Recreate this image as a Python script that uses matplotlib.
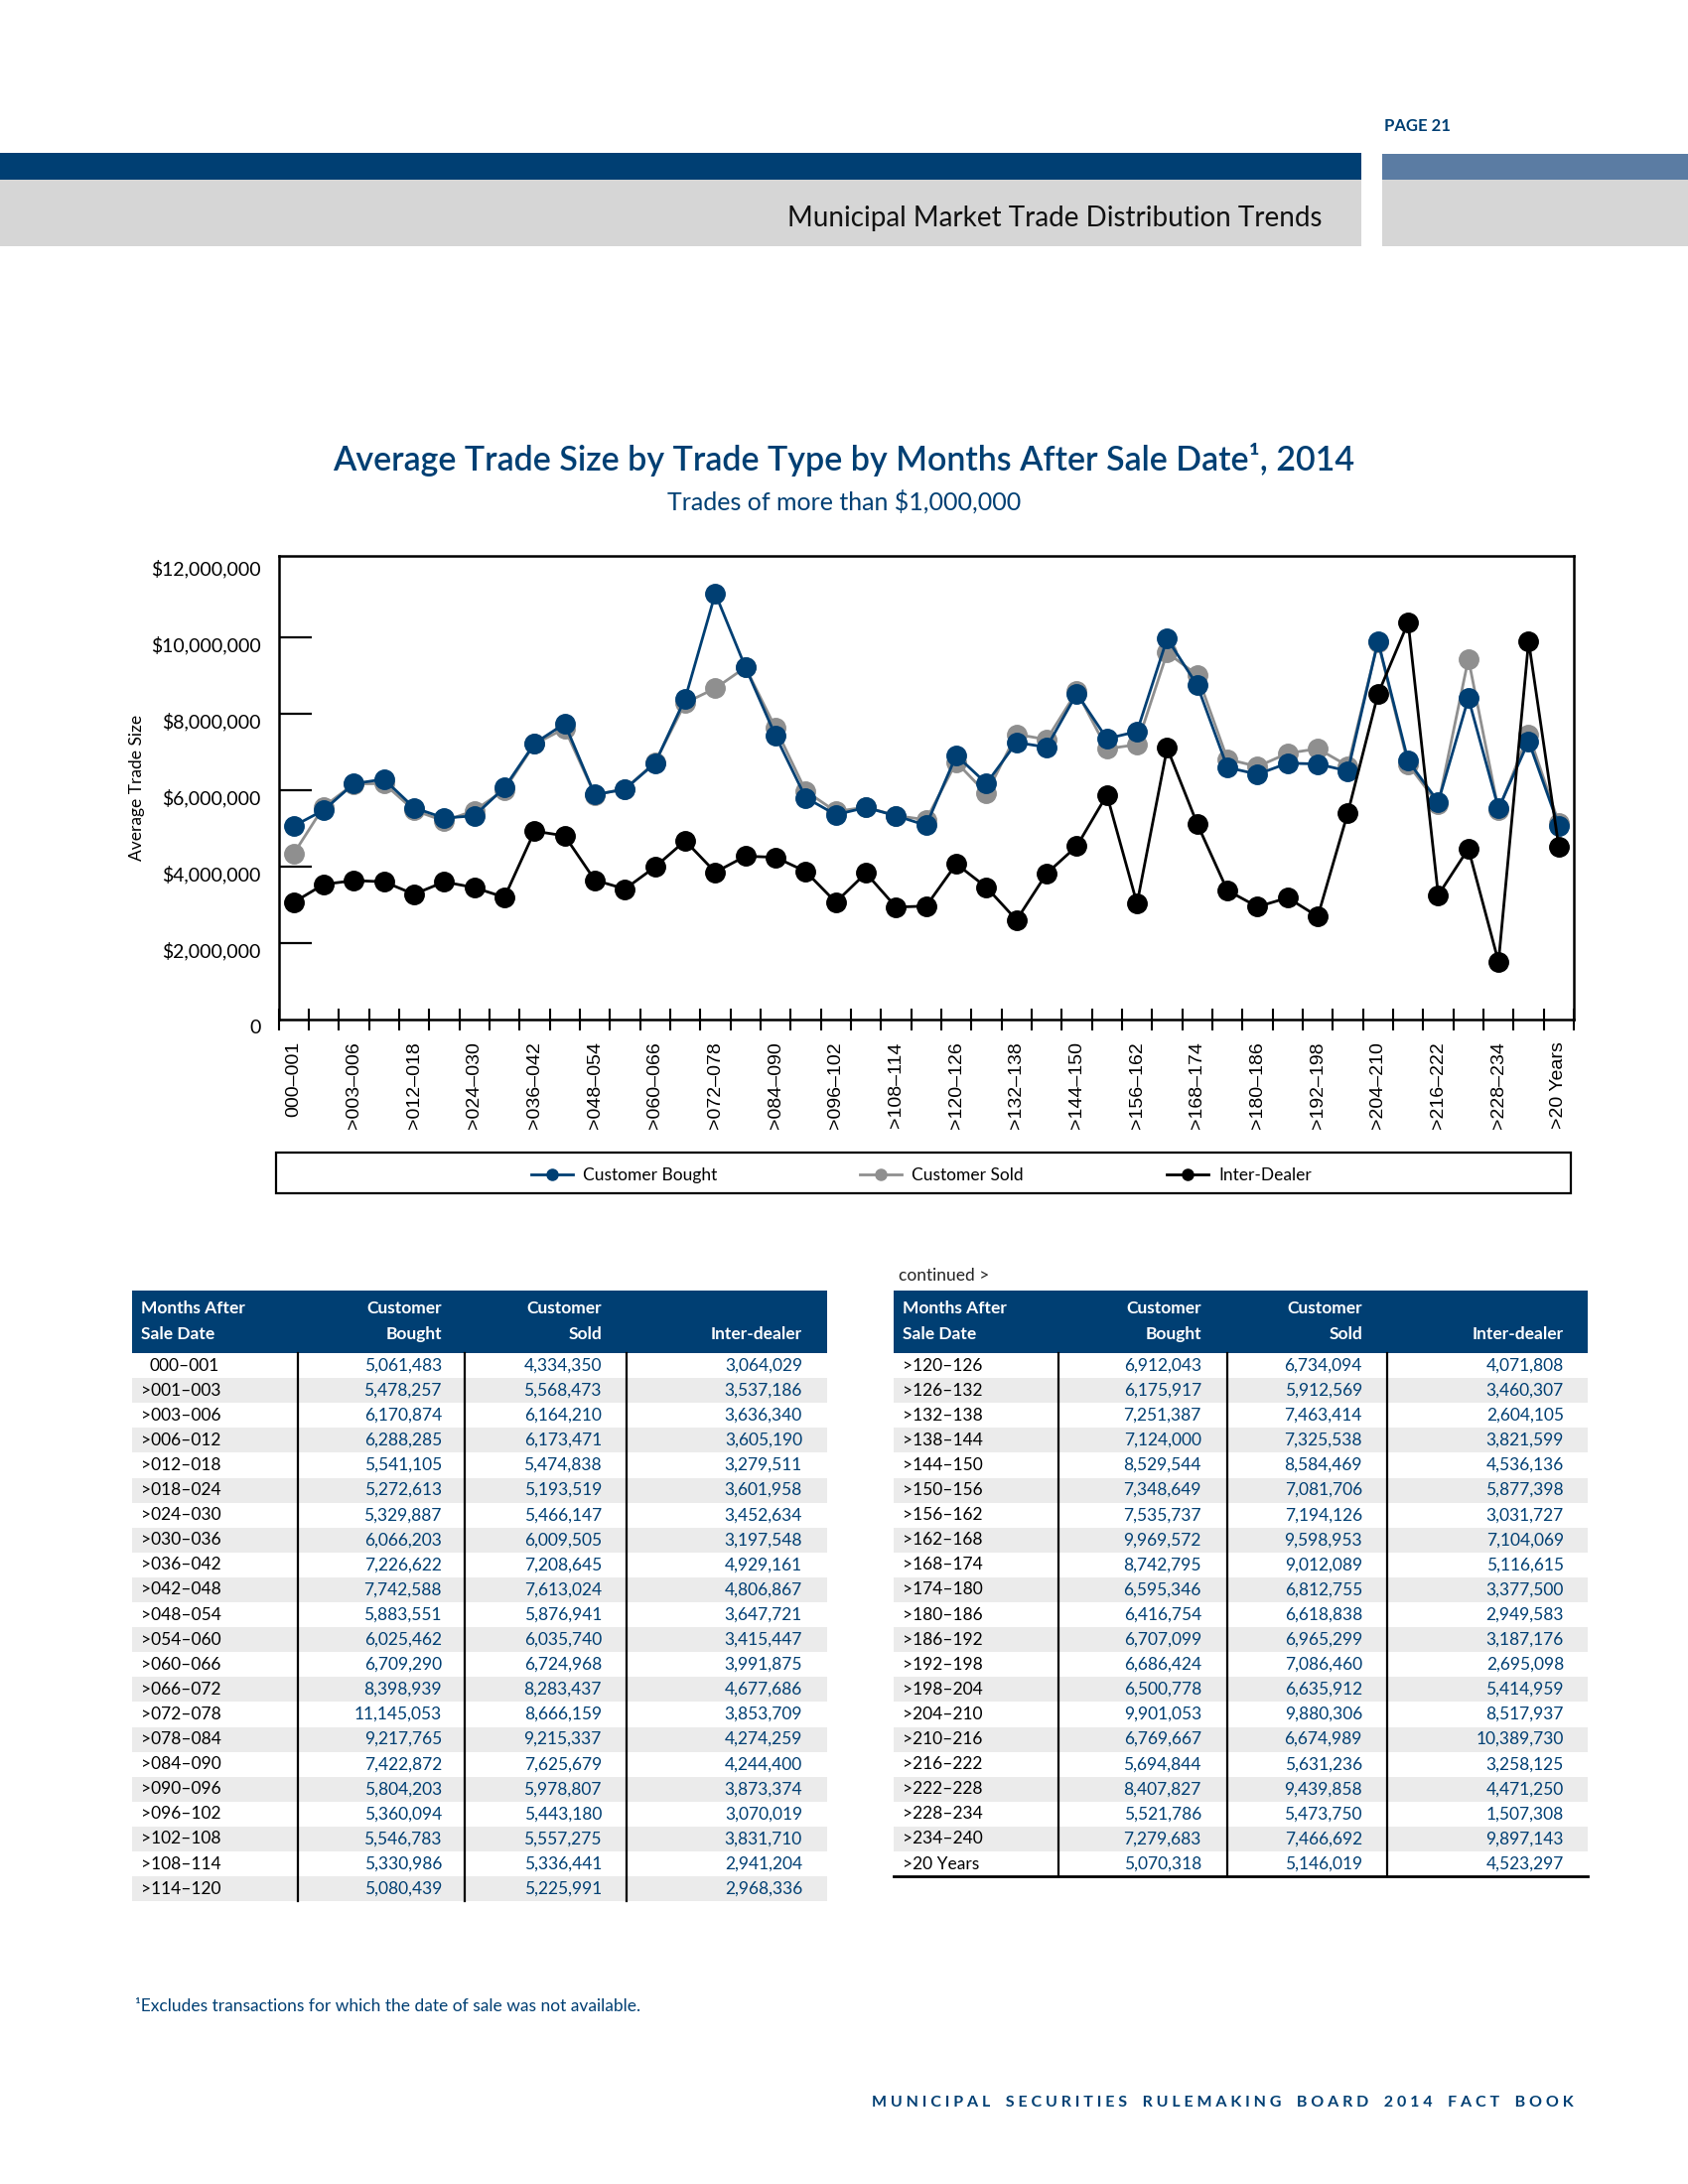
import matplotlib
matplotlib.use('Agg')
import matplotlib.pyplot as plt
import matplotlib.transforms as mtransforms
from matplotlib.patches import Rectangle
from matplotlib.lines import Line2D
import numpy as np

plt.rcParams['font.family'] = ['Lato', 'DejaVu Sans']

# ---------------- data ----------------
months = ['000–001', '>001–003', '>003–006', '>006–012', '>012–018', '>018–024',
          '>024–030', '>030–036', '>036–042', '>042–048', '>048–054', '>054–060',
          '>060–066', '>066–072', '>072–078', '>078–084', '>084–090', '>090–096',
          '>096–102', '>102–108', '>108–114', '>114–120',
          '>120–126', '>126–132', '>132–138', '>138–144', '>144–150', '>150–156',
          '>156–162', '>162–168', '>168–174', '>174–180', '>180–186', '>186–192',
          '>192–198', '>198–204', '>204–210', '>210–216', '>216–222', '>222–228',
          '>228–234', '>234–240', '>20 Years']

customer_bought = [5061483, 5478257, 6170874, 6288285, 5541105, 5272613, 5329887,
                   6066203, 7226622, 7742588, 5883551, 6025462, 6709290, 8398939,
                   11145053, 9217765, 7422872, 5804203, 5360094, 5546783, 5330986,
                   5080439,
                   6912043, 6175917, 7251387, 7124000, 8529544, 7348649, 7535737,
                   9969572, 8742795, 6595346, 6416754, 6707099, 6686424, 6500778,
                   9901053, 6769667, 5694844, 8407827, 5521786, 7279683, 5070318]

customer_sold = [4334350, 5568473, 6164210, 6173471, 5474838, 5193519, 5466147,
                 6009505, 7208645, 7613024, 5876941, 6035740, 6724968, 8283437,
                 8666159, 9215337, 7625679, 5978807, 5443180, 5557275, 5336441,
                 5225991,
                 6734094, 5912569, 7463414, 7325538, 8584469, 7081706, 7194126,
                 9598953, 9012089, 6812755, 6618838, 6965299, 7086460, 6635912,
                 9880306, 6674989, 5631236, 9439858, 5473750, 7466692, 5146019]

inter_dealer = [3064029, 3537186, 3636340, 3605190, 3279511, 3601958, 3452634,
                3197548, 4929161, 4806867, 3647721, 3415447, 3991875, 4677686,
                3853709, 4274259, 4244400, 3873374, 3070019, 3831710, 2941204,
                2968336,
                4071808, 3460307, 2604105, 3821599, 4536136, 5877398, 3031727,
                7104069, 5116615, 3377500, 2949583, 3187176, 2695098, 5414959,
                8517937, 10389730, 3258125, 4471250, 1507308, 9897143, 4523297]

series_names = ['Customer Bought', 'Customer Sold', 'Inter-Dealer']
y_ticks = [0, 2000000, 4000000, 6000000, 8000000, 10000000, 12000000]
table_headers = [('Months After', 'Sale Date'), ('Customer', 'Bought'),
                 ('Customer', 'Sold'), ('', 'Inter-dealer')]

# ---------------- style ----------------
BLUE = '#003f73'
LBLUE = '#5b7ca3'
GRAY = '#8f8f8f'
BAND = '#d6d6d6'
SHADE = '#ebebeb'

fig = plt.figure(figsize=(17, 22), dpi=100)
bg = fig.add_axes([0, 0, 1, 1], zorder=0)
bg.set_xlim(0, 1700)
bg.set_ylim(2200, 0)
bg.axis('off')

# page header
bg.add_patch(Rectangle((0, 154), 1371, 27, color=BLUE, lw=0))
bg.add_patch(Rectangle((0, 181), 1371, 67, color=BAND, lw=0))
bg.add_patch(Rectangle((1392, 155), 308, 26, color=LBLUE, lw=0))
bg.add_patch(Rectangle((1392, 181), 308, 67, color=BAND, lw=0))
bg.text(1394, 127, 'PAGE 21', color=BLUE, fontsize=12, fontweight='bold',
        ha='left', va='center')
bg.text(1332, 220, 'Municipal Market Trade Distribution Trends', color='#111111',
        fontsize=20, fontweight='normal', ha='right', va='center')

# chart titles
bg.text(850, 463, 'Average Trade Size by Trade Type by Months After Sale Date¹, 2014',
        color=BLUE, fontsize=24.5, fontweight='semibold', ha='center', va='center')
bg.text(850, 505, 'Trades of more than $1,000,000', color=BLUE, fontsize=18,
        ha='center', va='center')

# ---------------- chart ----------------
L, R, T, B = 280.5, 1585, 559.6, 1027
ax = fig.add_axes([L / 1700, 1 - B / 2200, (R - L) / 1700, (B - T) / 2200], zorder=2)
x = np.arange(len(months))
ax.plot(x, customer_sold, color=GRAY, lw=2, marker='o', ms=14, zorder=2)
ax.plot(x, customer_bought, color=BLUE, lw=2, marker='o', ms=14, zorder=3)
ax.plot(x, inter_dealer, color='black', lw=2, marker='o', ms=14, zorder=4)

ax.set_xlim(-0.5, len(months) - 0.5)
ax.set_ylim(0, 12.14e6)
ax.set_xticks(x[::2])
ax.set_xticklabels(months[::2], rotation=90, fontsize=14,
                   family=['Liberation Sans', 'DejaVu Sans'])
ax.set_xticks(np.arange(-0.5, len(months), 1), minor=True)
ax.tick_params(axis='x', which='major', length=0, pad=16)
ax.tick_params(axis='x', which='minor', direction='inout', length=16, width=1.5)
ax.set_yticks(y_ticks)
ax.set_yticklabels(['0' if v == 0 else '${:,.0f}'.format(v) for v in y_ticks],
                   fontsize=14)
ax.tick_params(axis='y', direction='in', length=24, width=1.6, pad=13)
yt = ax.yaxis.get_major_ticks()
yt[0].tick1line.set_visible(False)
yt[-1].tick1line.set_visible(False)
off = mtransforms.ScaledTranslation(0, -7 / 100, fig.dpi_scale_trans)
for lbl in ax.get_yticklabels():
    lbl.set_transform(lbl.get_transform() + off)
ax.set_ylabel('Average Trade Size', fontsize=12.5)
ax.yaxis.set_label_coords((146 - L) / (R - L), 0.5)
for s in ax.spines.values():
    s.set_linewidth(1.8)
    s.set_color('black')

# legend
bg.add_patch(Rectangle((278, 1161), 1304, 41, fill=False, lw=1.6, edgecolor='black'))
handles = [Line2D([], [], color=BLUE, lw=2, marker='o', ms=8),
           Line2D([], [], color=GRAY, lw=2, marker='o', ms=8),
           Line2D([], [], color='black', lw=2, marker='o', ms=8)]
fig.legend(handles, series_names, loc='center', bbox_to_anchor=(928 / 1700, 1 - 1184 / 2200),
           ncol=3, frameon=False, fontsize=12.5, handlelength=2.4, handletextpad=0.6,
           columnspacing=8.3)

# ---------------- tables ----------------
def draw_table(x0, x1, col_lines, right_edges, label_x, idx):
    top, hb, rh = 1300, 1363, 25.1
    bg.add_patch(Rectangle((x0, top), x1 - x0, hb - top, color=BLUE, lw=0))
    bg.text(label_x, 1318, table_headers[0][0], color='white', fontsize=12.5,
            fontweight='bold', ha='left', va='center')
    bg.text(label_x, 1344, table_headers[0][1], color='white', fontsize=12.5,
            fontweight='bold', ha='left', va='center')
    for (h1, h2), xr in zip(table_headers[1:], right_edges):
        if h1:
            bg.text(xr, 1318, h1, color='white', fontsize=12.5, fontweight='bold',
                    ha='right', va='center')
        bg.text(xr, 1344, h2, color='white', fontsize=12.5, fontweight='bold',
                ha='right', va='center')
    n = len(idx)
    for r, i in enumerate(idx):
        y0 = hb + r * rh
        if r % 2 == 1:
            bg.add_patch(Rectangle((x0, y0), x1 - x0, rh, color=SHADE, lw=0))
        yc = y0 + rh / 2
        lx = label_x + (9 if months[i].startswith('0') else 0)
        bg.text(lx, yc, months[i], color='black', fontsize=12.5, ha='left', va='center')
        for vals, xr in zip((customer_bought, customer_sold, inter_dealer), right_edges):
            bg.text(xr, yc, '{:,}'.format(vals[i]), color=BLUE, fontsize=12.5,
                    ha='right', va='center')
    bottom = hb + n * rh
    for cx in col_lines:
        bg.plot([cx, cx], [hb, bottom], color='black', lw=1.6)
    return bottom

draw_table(133, 833, [300, 468, 631], [445, 606, 808], 142, range(0, 22))
bot = draw_table(900, 1599, [1066, 1236, 1397], [1210, 1372, 1575], 909, range(22, 43))
bg.plot([900, 1599], [bot, bot], color='black', lw=2)
bg.text(905, 1285, 'continued >', color='#222222', fontsize=12.5, ha='left', va='center')

# footnote & footer
bg.text(136, 2021, '¹Excludes transactions for which the date of sale was not available.',
        color=BLUE, fontsize=12.5, ha='left', va='center')
footer = 'MUNICIPAL SECURITIES RULEMAKING BOARD 2014 FACT BOOK'
spaced = '    '.join(' '.join(w) for w in footer.split(' '))
bg.text(1585, 2118, spaced, color=BLUE, fontsize=11.5, fontweight='bold',
        ha='right', va='center')

fig.savefig('out.png', dpi=100)
